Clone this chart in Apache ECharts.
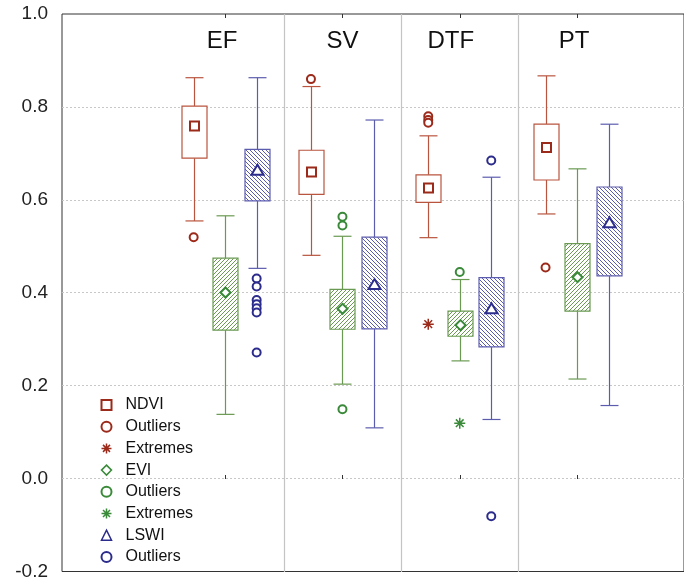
<!DOCTYPE html>
<html><head><meta charset="utf-8">
<script src="https://cdn.jsdelivr.net/npm/echarts@6/dist/echarts.min.js"></script>
<style>html,body{margin:0;padding:0;background:#fff}#c{width:684px;height:581px}</style>
</head><body><div id="c"></div>
<script>
const groups = ['EF', 'SV', 'DTF', 'PT'];
const yTickMin = -0.2, yTickMax = 1.0, yTickStep = 0.2;
// per group: [lower whisker, lower box edge, centre marker, upper box edge, upper whisker]
const ndviBox = [[0.555, 0.690, 0.759, 0.802, 0.863], [0.481, 0.612, 0.660, 0.707, 0.844], [0.519, 0.595, 0.626, 0.654, 0.738], [0.570, 0.643, 0.713, 0.763, 0.867]];
const eviBox  = [[0.139, 0.320, 0.401, 0.475, 0.566], [0.204, 0.322, 0.366, 0.408, 0.522], [0.254, 0.307, 0.331, 0.361, 0.429], [0.215, 0.361, 0.434, 0.506, 0.667]];
const lswiBox = [[0.453, 0.598, 0.663, 0.709, 0.863], [0.110, 0.323, 0.417, 0.520, 0.772], [0.128, 0.284, 0.365, 0.433, 0.649], [0.158, 0.437, 0.550, 0.628, 0.763]];
// [group index, value]
const ndviOutliers = [[0, 0.520], [1, 0.860], [2, 0.780], [2, 0.772], [2, 0.766], [3, 0.455]];
const ndviExtremes = [[2, 0.333]];
const eviOutliers  = [[1, 0.564], [1, 0.545], [1, 0.150], [2, 0.445]];
const eviExtremes  = [[2, 0.120]];
const lswiOutliers = [[0, 0.431], [0, 0.414], [0, 0.385], [0, 0.376], [0, 0.367], [0, 0.358], [0, 0.272], [2, 0.685], [2, -0.080]];

const RED = '#b9553f', RED_M = '#9c2a1a';
const GREEN = '#6a9a52', GREEN_M = '#3a8a3a';
const BLUE = '#5c5cae', BLUE_M = '#2c2c8c';
const OFF = 31.5;

function hatch(color, dir) {
  const c = document.createElement('canvas'); c.width = 4; c.height = 4;
  const g = c.getContext('2d');
  g.fillStyle = '#fff'; g.fillRect(0, 0, 4, 4);
  g.strokeStyle = color; g.lineWidth = 1;
  g.beginPath();
  if (dir > 0) { g.moveTo(0, 4); g.lineTo(4, 0); g.moveTo(-1, 1); g.lineTo(1, -1); g.moveTo(3, 5); g.lineTo(5, 3); }
  else { g.moveTo(0, 0); g.lineTo(4, 4); g.moveTo(-1, 3); g.lineTo(1, 5); g.moveTo(3, -1); g.lineTo(5, 1); }
  g.stroke();
  return c;
}
const greenFill = { image: hatch(GREEN, 1), repeat: 'repeat' };
const blueFill = { image: hatch(BLUE, -1), repeat: 'repeat' };

function boxRenderer(offset, color, fill, marker, mColor) {
  return function (params, api) {
    const cat = api.value(0);
    const cx = Math.round(api.coord([cat, 0])[0] + offset) + 0.5;
    const yv = i => api.coord([cat, api.value(i)])[1];
    const yLow = yv(1), yQ1 = yv(2), yMid = yv(3), yQ3 = yv(4), yHigh = yv(5);
    const bw = 25, cw = 18;
    const ls = { stroke: color, lineWidth: 1.2 };
    const ch = [
      { type: 'line', shape: { x1: cx, y1: yHigh, x2: cx, y2: yQ3 }, style: ls },
      { type: 'line', shape: { x1: cx, y1: yQ1, x2: cx, y2: yLow }, style: ls },
      { type: 'line', shape: { x1: cx - cw / 2, y1: yHigh, x2: cx + cw / 2, y2: yHigh }, style: ls },
      { type: 'line', shape: { x1: cx - cw / 2, y1: yLow, x2: cx + cw / 2, y2: yLow }, style: ls },
      { type: 'rect', shape: { x: cx - bw / 2, y: yQ3, width: bw, height: yQ1 - yQ3 }, style: { fill: fill, stroke: color, lineWidth: 1.2 } }
    ];
    const ms = { fill: '#fff', stroke: mColor, lineWidth: 2 };
    if (marker === 'square') ch.push({ type: 'rect', shape: { x: cx - 4.5, y: yMid - 4.5, width: 9, height: 9 }, style: ms });
    else if (marker === 'diamond') ch.push({ type: 'polygon', shape: { points: [[cx, yMid - 5], [cx + 5, yMid], [cx, yMid + 5], [cx - 5, yMid]] }, style: ms });
    else ch.push({ type: 'polygon', shape: { points: [[cx, yMid - 6], [cx + 6, yMid + 4], [cx - 6, yMid + 4]] }, style: ms });
    return { type: 'group', children: ch };
  };
}
function boxData(arr) { return arr.map((b, i) => [i].concat(b)); }
const STAR = 'path://M0,-5L0,5M-5,0L5,0M-3.5,-3.5L3.5,3.5M-3.5,3.5L3.5,-3.5';
const RING = 'path://M0,0m-4,0a4,4 0 1,0 8,0a4,4 0 1,0 -8,0';

const FONT = 'Liberation Sans, Arial, sans-serif';
const chart = echarts.init(document.getElementById('c'), null, { renderer: 'canvas' });
const G1L = 166.5, G1W = 469.2;
const titleShift = { EF: [0, 6, 0, 0], SV: [0, 0, 0, 0], DTF: [0, 18, 0, 0], PT: [0, 6, 0, 0] };
chart.setOption({
  animation: false,
  backgroundColor: '#fff',
  grid: [
    { left: 62, width: 640, top: 14, bottom: 9, show: true, borderColor: '#333', borderWidth: 1, backgroundColor: 'transparent' },
    { left: G1L, width: G1W, top: 14, bottom: 9 }
  ],
  xAxis: [
    { gridIndex: 0, type: 'value', show: false, min: 0, max: 1 },
    { gridIndex: 1, type: 'category', data: groups, position: 'bottom',
      axisLine: { show: false }, axisLabel: { show: false },
      axisTick: { show: true, inside: true, alignWithLabel: true, length: 4, lineStyle: { color: '#333' } },
      splitLine: { show: true, showMinLine: false, showMaxLine: false, lineStyle: { color: '#c4c4c4', width: 1.2 } } },
    { gridIndex: 1, type: 'category', position: 'top',
      data: groups.map(g => ({ value: g, textStyle: { padding: titleShift[g] } })),
      axisLine: { show: false },
      axisTick: { show: true, inside: true, alignWithLabel: true, length: 4, lineStyle: { color: '#333' } },
      axisLabel: { inside: true, margin: 15, fontSize: 24, color: '#111', fontFamily: FONT },
      splitLine: { show: false } }
  ],
  yAxis: [
    { gridIndex: 0, type: 'value', min: yTickMin, max: yTickMax, interval: yTickStep,
      axisLine: { show: false },
      axisTick: { show: false },
      axisLabel: { fontSize: 19, color: '#222', margin: 14, fontFamily: FONT, formatter: v => v.toFixed(1) },
      splitLine: { show: true, showMinLine: false, showMaxLine: false, lineStyle: { color: '#c8c8c8', type: [2, 2], width: 1 } } },
    { gridIndex: 1, type: 'value', min: yTickMin, max: yTickMax, show: false, splitLine: { show: false } }
  ],
  legend: {
    orient: 'vertical', left: 94, top: 391, itemWidth: 10, itemHeight: 10, itemGap: 3.7,
    selectedMode: false,
    textStyle: { fontSize: 16, color: '#111', fontFamily: FONT, lineHeight: 18, padding: [0, 0, 0, 9] },
    data: [
      { name: 'NDVI', icon: 'rect', itemStyle: { color: '#fff', borderColor: RED_M, borderWidth: 2 } },
      { name: 'Outliers', icon: RING, itemStyle: { color: '#fff', borderColor: RED_M, borderWidth: 2 } },
      { name: 'Extremes', icon: STAR, itemStyle: { color: 'none', borderColor: RED_M, borderWidth: 1.5 } },
      { name: 'EVI', icon: 'diamond', itemStyle: { color: '#fff', borderColor: GREEN_M, borderWidth: 1.5 } },
      { name: 'Outliers ', icon: RING, itemStyle: { color: '#fff', borderColor: GREEN_M, borderWidth: 2 } },
      { name: 'Extremes ', icon: STAR, itemStyle: { color: 'none', borderColor: GREEN_M, borderWidth: 1.5 } },
      { name: 'LSWI', icon: 'triangle', itemStyle: { color: '#fff', borderColor: BLUE_M, borderWidth: 1.5 } },
      { name: 'Outliers  ', icon: RING, itemStyle: { color: '#fff', borderColor: BLUE_M, borderWidth: 2 } }
    ]
  },
  series: [
    { name: 'NDVI', type: 'custom', xAxisIndex: 1, yAxisIndex: 1, itemStyle: { color: RED_M },
      renderItem: boxRenderer(-OFF, RED, '#fff', 'square', RED_M), encode: { x: 0, y: [1, 2, 3, 4, 5] }, data: boxData(ndviBox), z: 3 },
    { name: 'Outliers', type: 'scatter', xAxisIndex: 1, yAxisIndex: 1, symbol: 'circle', symbolSize: 8, symbolOffset: [-OFF, 0],
      itemStyle: { color: '#fff', borderColor: RED_M, borderWidth: 2, opacity: 1 }, data: ndviOutliers, z: 4 },
    { name: 'Extremes', type: 'scatter', xAxisIndex: 1, yAxisIndex: 1, symbol: STAR, symbolSize: 11, symbolOffset: [-OFF, 0],
      itemStyle: { color: 'none', borderColor: RED_M, borderWidth: 1.5, opacity: 1 }, data: ndviExtremes, z: 4 },
    { name: 'EVI', type: 'custom', xAxisIndex: 1, yAxisIndex: 1, itemStyle: { color: GREEN_M },
      renderItem: boxRenderer(0, GREEN, greenFill, 'diamond', GREEN_M), encode: { x: 0, y: [1, 2, 3, 4, 5] }, data: boxData(eviBox), z: 3 },
    { name: 'Outliers ', type: 'scatter', xAxisIndex: 1, yAxisIndex: 1, symbol: 'circle', symbolSize: 8, symbolOffset: [0, 0],
      itemStyle: { color: '#fff', borderColor: GREEN_M, borderWidth: 2, opacity: 1 }, data: eviOutliers, z: 4 },
    { name: 'Extremes ', type: 'scatter', xAxisIndex: 1, yAxisIndex: 1, symbol: STAR, symbolSize: 11, symbolOffset: [0, 0],
      itemStyle: { color: 'none', borderColor: GREEN_M, borderWidth: 1.5, opacity: 1 }, data: eviExtremes, z: 4 },
    { name: 'LSWI', type: 'custom', xAxisIndex: 1, yAxisIndex: 1, itemStyle: { color: BLUE_M },
      renderItem: boxRenderer(OFF, BLUE, blueFill, 'triangle', BLUE_M), encode: { x: 0, y: [1, 2, 3, 4, 5] }, data: boxData(lswiBox), z: 3 },
    { name: 'Outliers  ', type: 'scatter', xAxisIndex: 1, yAxisIndex: 1, symbol: 'circle', symbolSize: 8, symbolOffset: [OFF, 0],
      itemStyle: { color: '#fff', borderColor: BLUE_M, borderWidth: 2, opacity: 1 }, data: lswiOutliers, z: 4 }
  ]
});
</script>
</body></html>
